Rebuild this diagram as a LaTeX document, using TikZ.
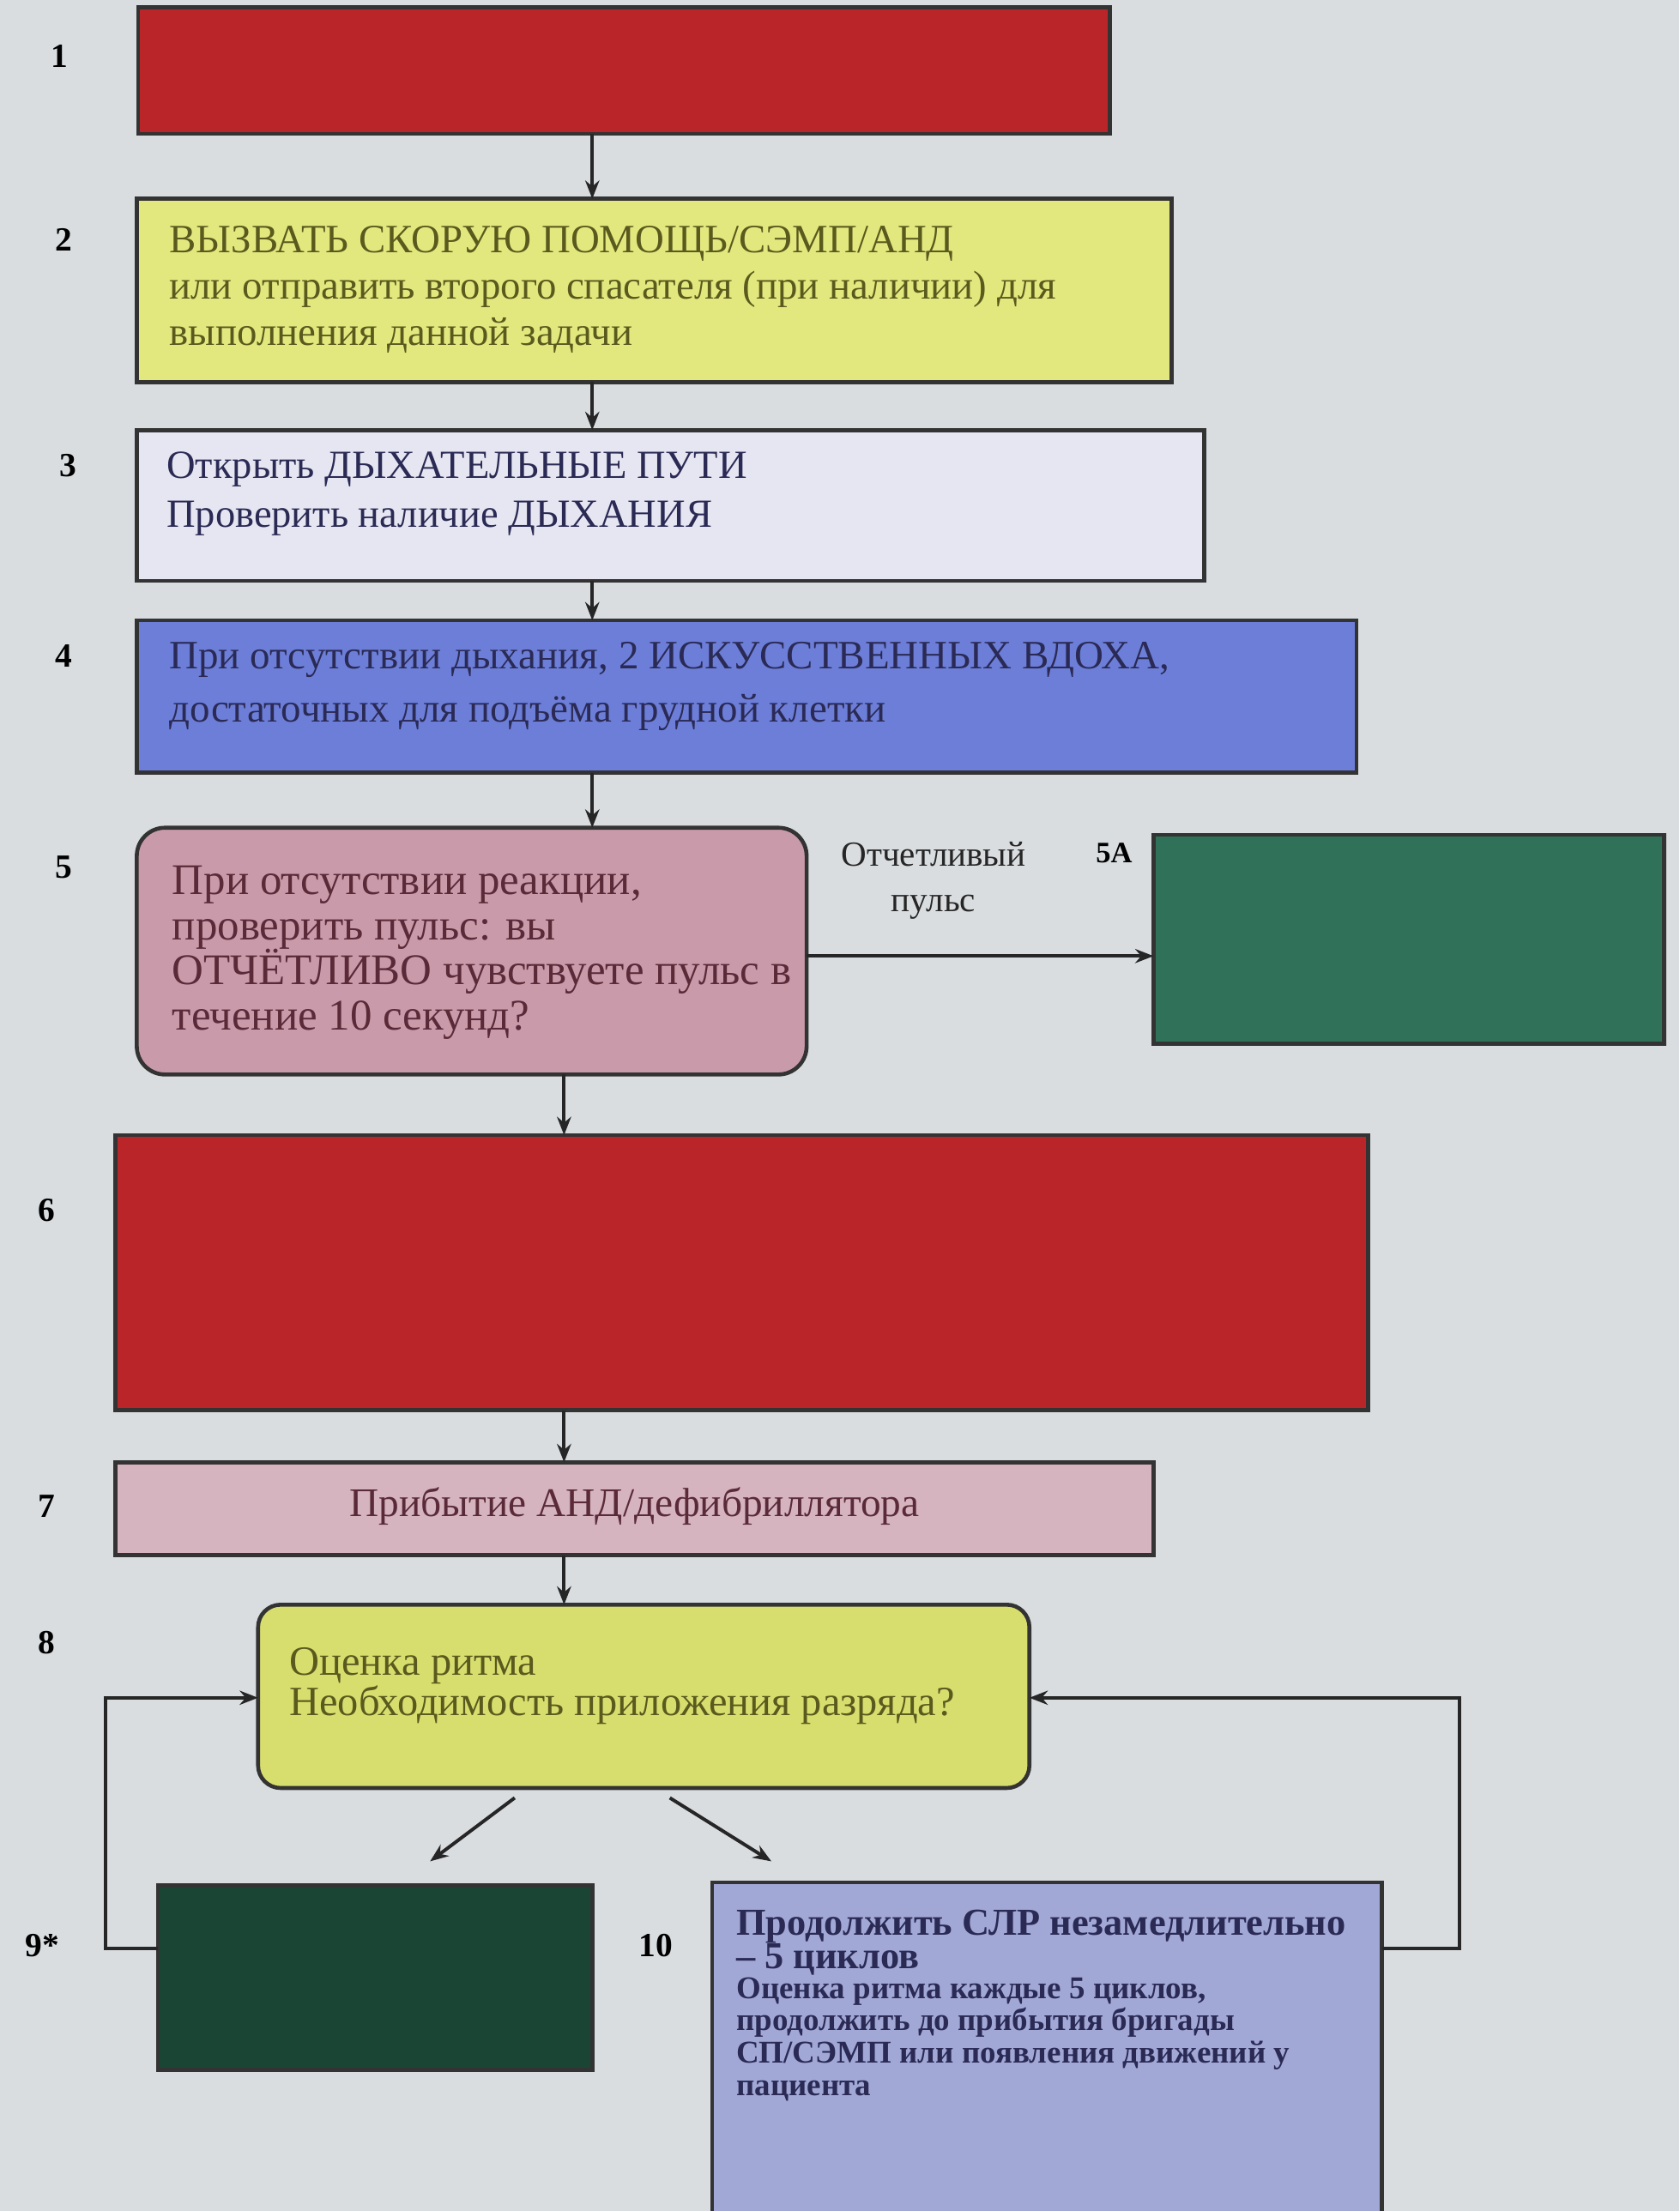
\documentclass[tikz,border=0pt]{standalone}
\usepackage{fontspec}
\setmainfont{Liberation Serif}
\usetikzlibrary{arrows.meta}
\definecolor{bg}{HTML}{D9DDE0}
\definecolor{cRed}{HTML}{B92529}
\definecolor{cYel}{HTML}{E3E87E}
\definecolor{cYel2}{HTML}{D8DE6E}
\definecolor{cLav}{HTML}{E6E6F2}
\definecolor{cBlue}{HTML}{6C7ED8}
\definecolor{cPink}{HTML}{C99AAA}
\definecolor{cPink2}{HTML}{D5B3BF}
\definecolor{cGreen}{HTML}{2F7259}
\definecolor{cGreenD}{HTML}{1A4535}
\definecolor{cLavB}{HTML}{A2A8D6}
\definecolor{edge}{HTML}{333333}
\definecolor{tOlive}{HTML}{5A5A1E}
\definecolor{tNavy}{HTML}{2A2A55}
\definecolor{tMaroon}{HTML}{5A2A38}
\begin{document}
\begin{tikzpicture}[x=1pt,y=-1pt,
  box/.style={draw=edge, line width=2.8pt, anchor=north west, inner sep=0pt, outer sep=0pt},
  txt/.style={anchor=north west, align=left, inner sep=0pt},
  num/.style={font=\bfseries\fontsize{24}{26}\selectfont, inner sep=0pt},
  arr/.style={draw=black!85, line width=2.4pt, -{Stealth[length=13pt,width=10pt]}},
  ln/.style={draw=black!85, line width=2.4pt}]
\useasboundingbox (0,0) rectangle (1191,1568);
\fill[bg] (0,0) rectangle (1191,1568);

% boxes
\node[box, fill=cRed, minimum width=689, minimum height=90] (b1) at (98,5) {};
\node[box, fill=cYel, minimum width=734, minimum height=130] (b2) at (97,141) {};
\node[box, fill=cLav, minimum width=757, minimum height=107] (b3) at (97,305) {};
\node[box, fill=cBlue, minimum width=865, minimum height=108] (b4) at (97,440) {};
\node[box, fill=cPink, rounded corners=20pt, minimum width=475, minimum height=175] (b5) at (97,587) {};
\node[box, fill=cGreen, minimum width=362, minimum height=148] (b5a) at (818,592) {};
\node[box, fill=cRed, minimum width=888, minimum height=195] (b6) at (82,805) {};
\node[box, fill=cPink2, minimum width=736, minimum height=66] (b7) at (82,1037) {};
\node[box, fill=cYel2, rounded corners=16pt, minimum width=547, minimum height=130] (b8) at (183,1138) {};
\node[box, fill=cGreenD, minimum width=308, minimum height=131] (b9) at (112,1337) {};
\node[box, fill=cLavB, minimum width=475, minimum height=245] (b10) at (505,1335) {};

% numbers
\node[num] (n1) at (42,40) {1};
\node[num] (n2) at (45,170) {2};
\node[num] (n3) at (48,330) {3};
\node[num] (n4) at (45,465) {4};
\node[num] (n5) at (45,615) {5};
\node[num] (n6) at (33,858) {6};
\node[num] (n7) at (33,1068) {7};
\node[num] (n8) at (33,1165) {8};
\node[num] (n9) at (30,1380) {9*};
\node[num] (n10) at (465,1380) {10};

% texts
\node[txt, text=tOlive, font=\fontsize{28.5}{33}\selectfont] (t2) at (120,160)
 {ВЫЗВАТЬ СКОРУЮ ПОМОЩЬ/СЭМП/АНД\\или отправить второго спасателя (при наличии) для\\выполнения данной задачи};
\node[txt, text=tNavy, font=\fontsize{28.3}{35}\selectfont] (t3) at (118,320)
 {Открыть ДЫХАТЕЛЬНЫЕ ПУТИ\\Проверить наличие ДЫХАНИЯ};
\node[txt, text=tNavy, font=\fontsize{28.6}{38}\selectfont] (t4) at (120,455)
 {При отсутствии дыхания, 2 ИСКУССТВЕННЫХ ВДОХА,\\достаточных для подъёма грудной клетки};
\node[txt, text=tMaroon, font=\fontsize{31}{32}\selectfont] (t5) at (122,614)
 {При отсутствии реакции,\\проверить пульс: вы\\ОТЧЁТЛИВО чувствуете пульс в\\течение 10 секунд?};
\node[anchor=north, align=center, inner sep=0pt, text=black!85, font=\fontsize{25}{32}\selectfont] (lp) at (662,597)
 {Отчетливый\\пульс};
\node[inner sep=0pt, font=\bfseries\fontsize{21}{22}\selectfont] (l5a) at (790,605) {5А};
\node[inner sep=0pt, text=tMaroon, font=\fontsize{28.8}{30}\selectfont] (t7) at (450,1068)
 {Прибытие АНД/дефибриллятора};
\node[txt, text=tOlive, font=\fontsize{29.5}{29}\selectfont] (t8) at (205,1168)
 {Оценка ритма\\Необходимость приложения разряда?};
\node[txt, text=tNavy, font=\bfseries\fontsize{27}{24}\selectfont] (t10a) at (522,1354)
 {Продолжить СЛР незамедлительно\\– 5 циклов};
\node[txt, text=tNavy, font=\bfseries\fontsize{22.5}{23}\selectfont] (t10b) at (522,1402)
 {Оценка ритма каждые 5 циклов,\\продолжить до прибытия бригады\\СП/СЭМП или появления движений у\\пациента};

% connectors
\coordinate (xa) at (420,0);
\coordinate (xb) at (400,0);
\draw[arr] (b1.south -| xa) -- (b2.north -| xa);
\draw[arr] (b2.south -| xa) -- (b3.north -| xa);
\draw[arr] (b3.south -| xa) -- (b4.north -| xa);
\draw[arr] (b4.south -| xa) -- (b5.north -| xa);
\draw[arr] (b5.south -| xb) -- (b6.north -| xb);
\draw[arr] (b6.south -| xb) -- (b7.north -| xb);
\draw[arr] (b7.south -| xb) -- (b8.north -| xb);
\coordinate (y5) at (0,678);
\draw[arr] (b5.east |- y5) -- (b5a.west |- y5);
% loops
\coordinate (yl) at (0,1382);
\coordinate (yi) at (0,1204);
\coordinate (lxl) at (75,1382);
\coordinate (lxu) at (75,1204);
\coordinate (rxl) at (1035,1382);
\coordinate (rxu) at (1035,1204);
\draw[arr] (b9.west |- yl) -- (lxl) -- (lxu) -- (b8.west |- yi);
\draw[arr] (b10.east |- yl) -- (rxl) -- (rxu) -- (b8.east |- yi);
% diagonals
\coordinate (d1s) at (365,1275);
\coordinate (d1e) at (305,1320);
\coordinate (d2s) at (475,1275);
\coordinate (d2e) at (547,1320);
\draw[arr] (d1s) -- (d1e);
\draw[arr] (d2s) -- (d2e);
\end{tikzpicture}
\end{document}
